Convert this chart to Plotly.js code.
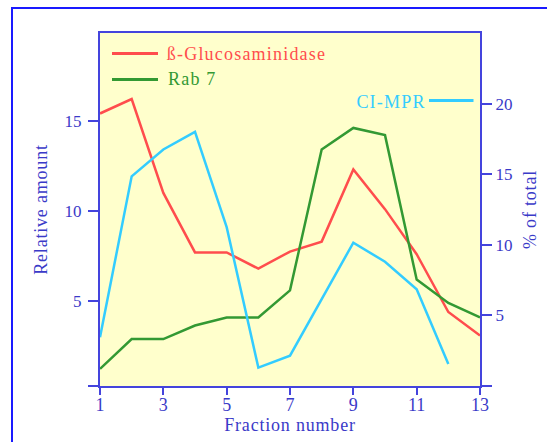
<!DOCTYPE html>
<html>
<head>
<meta charset="utf-8">
<script src="https://cdn.plot.ly/plotly-3.0.1.min.js"></script>
<style>
html,body{margin:0;padding:0;overflow:hidden;background:#fff;width:547px;height:442px;}
#frame{position:absolute;left:11px;top:7px;width:600px;height:500px;border-left:2px solid #1a1aff;border-top:2px solid #1a1aff;}
#chart{position:absolute;left:0;top:0;width:547px;height:442px;}
#chart .annotation-text{letter-spacing:1.2px;}
#chart .xtitle, #chart .ytitle, #chart .y2title{letter-spacing:0.8px;}
</style>
</head>
<body>
<div id="frame"></div>
<div id="chart"></div>
<script>
// Data
const fractions = [1,2,3,4,5,6,7,8,9,10,11,12,13];
const glucosaminidase = [15.4,16.2,11.0,7.7,7.7,6.8,7.75,8.3,12.3,10.1,7.6,4.4,3.1];
const rab7 = [1.25,2.9,2.9,3.65,4.1,4.1,5.6,13.4,14.6,14.2,6.2,4.9,4.1];
const ciFractions = [1,2,3,4,5,6,7,8,9,10,11,12];
const ciMpr = [3.45,14.85,16.75,18.0,11.25,1.3,2.15,6.1,10.15,8.8,6.85,1.55];
const xTicks = [1,3,5,7,9,11,13];
const leftTicks = [0.3,5,10,15];
const leftTickText = ['', '5', '10', '15'];
const rightTicks = [0,5,10,15,20];
const rightTickText = ['', '5', '10', '15', '20'];
const names = ['ß-Glucosaminidase','Rab 7','CI-MPR'];

const RED = '#ff4d4d', GREEN = '#339933', CYAN = '#33ccff';
const AX = '#4444dd', TXT = '#3a3ac8';
const FONT = '"Liberation Serif", "Times New Roman", serif';

const traces = [
  {x: fractions, y: glucosaminidase, name: names[0], type: 'scatter', mode: 'lines',
   line: {color: RED, width: 2.5}, yaxis: 'y'},
  {x: fractions, y: rab7, name: names[1], type: 'scatter', mode: 'lines',
   line: {color: GREEN, width: 2.5}, yaxis: 'y'},
  {x: ciFractions, y: ciMpr, name: names[2], type: 'scatter', mode: 'lines',
   line: {color: CYAN, width: 2.5}, yaxis: 'y2'}
];

const L = 100, R = 480, T = 33, B = 386;
const px = v => (v - L) / (R - L);
const py = v => (B - v) / (B - T);

const layout = {
  width: 547, height: 442,
  margin: {l: L, r: 547 - R, t: T, b: 442 - B, pad: 0},
  paper_bgcolor: 'rgba(0,0,0,0)',
  plot_bgcolor: '#ffffcc',
  showlegend: false,
  font: {family: FONT, size: 17, color: TXT},
  xaxis: {
    range: [1, 13], tickvals: xTicks, ticks: 'outside', ticklen: 7, tickwidth: 2, tickcolor: AX,
    showline: true, linecolor: AX, linewidth: 2, mirror: true, showgrid: false, zeroline: false,
    ticklabelstandoff: -6,
    tickfont: {family: FONT, size: 18, color: TXT},
    title: {text: 'Fraction number', font: {family: FONT, size: 18, color: TXT}, standoff: 2}
  },
  yaxis: {
    range: [0.3, 19.86], tickvals: leftTicks, ticktext: leftTickText, ticks: 'outside', ticklen: 10,
    tickwidth: 2, tickcolor: AX, showline: true, linecolor: AX, linewidth: 2, showgrid: false, zeroline: false,
    ticklabelstandoff: 3,
    tickfont: {family: FONT, size: 17, color: TXT},
    title: {text: 'Relative amount', font: {family: FONT, size: 18, color: TXT}, standoff: 12}
  },
  yaxis2: {
    range: [0, 25], overlaying: 'y', side: 'right', tickvals: rightTicks, ticktext: rightTickText,
    ticks: 'outside', ticklen: 10, tickwidth: 2, tickcolor: AX, showline: true, linecolor: AX, linewidth: 2,
    showgrid: false, zeroline: false,
    tickfont: {family: FONT, size: 17, color: TXT},
    title: {text: '% of total', font: {family: FONT, size: 18, color: TXT}, standoff: 12}
  },
  shapes: [
    {type: 'line', xref: 'paper', yref: 'paper', x0: px(112), x1: px(158), y0: py(53.5), y1: py(53.5),
     line: {color: RED, width: 3}},
    {type: 'line', xref: 'paper', yref: 'paper', x0: px(112), x1: px(158), y0: py(79.5), y1: py(79.5),
     line: {color: GREEN, width: 3}},
    {type: 'line', xref: 'paper', yref: 'paper', x0: px(429), x1: px(473.5), y0: py(100.5), y1: py(100.5),
     line: {color: CYAN, width: 3}}
  ],
  annotations: [
    {xref: 'paper', yref: 'paper', x: px(175), y: py(54), xanchor: 'left', yanchor: 'middle', showarrow: false,
     text: names[0], font: {family: FONT, size: 18, color: RED}},
    {xref: 'paper', yref: 'paper', x: px(169), y: py(79), xanchor: 'left', yanchor: 'middle', showarrow: false,
     text: names[1], font: {family: FONT, size: 18, color: GREEN}},
    {xref: 'paper', yref: 'paper', x: px(424), y: py(101.5), xanchor: 'right', yanchor: 'middle', showarrow: false,
     text: names[2], font: {family: FONT, size: 18, color: CYAN}}
  ]
};

Plotly.newPlot('chart', traces, layout, {staticPlot: true, displayModeBar: false});
</script>
</body>
</html>
